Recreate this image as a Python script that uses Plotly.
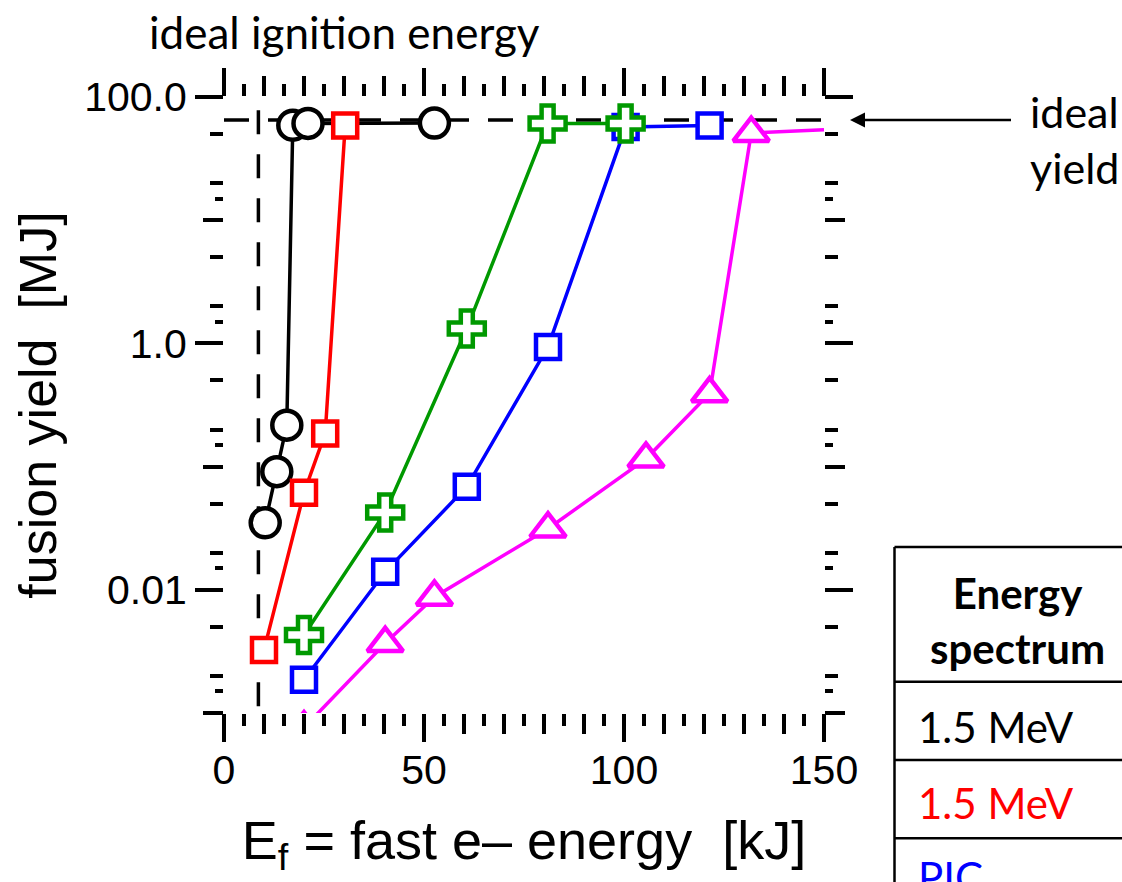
import plotly.graph_objects as go

# ---------------- data ----------------
black_x = [10.3, 13.2, 15.7, 17.2, 21.0, 52.6]
black_y = [0.035, 0.091, 0.217, 59.0, 61.0, 61.4]

red_x = [10.0, 20.0, 25.3, 30.3]
red_y = [0.00325, 0.0614, 0.186, 58.8]

blue_x = [20.0, 40.3, 60.7, 81.0, 100.4, 121.4]
blue_y = [0.00186, 0.0140, 0.0686, 0.937, 57.0, 58.8]

green_x = [20.0, 40.3, 60.7, 80.9, 100.4]
green_y = [0.0043, 0.0425, 1.32, 60.8, 60.8]

magenta_x = [20.0, 40.3, 52.6, 81.0, 105.5, 121.4, 131.8, 150.0]
magenta_y = [0.00076, 0.00368, 0.00875, 0.0313, 0.1156, 0.392, 50.9, 54.3]
magenta_marker_shown = [1, 1, 1, 1, 1, 1, 1, 0]

ideal_yield = 65.0           # MJ
ignition_energy = 8.6        # kJ
ignition_line_y = [78.0, 0.001]
ideal_line_x = [0.0, 150.0]

# ticks
x_major_vals = [0, 50, 100, 150]
x_major_text = ["0", "50", "100", "150"]
x_mid_vals = [10, 20, 30, 40, 60, 70, 80, 90, 110, 120, 130, 140]
x_minor_vals = [5, 15, 25, 35, 45, 55, 65, 75, 85, 95, 105, 115, 125, 135, 145]

y_major_vals = [0.01, 1, 100]
y_major_text = ["0.01", "1.0", "100.0"]
y_mid_vals = [0.001, 0.1, 10]
y_minor_vals = [0.002, 0.005, 0.02, 0.05, 0.2, 0.5, 2, 5, 20, 50]
y_small_vals = [0.0015, 0.015, 0.15, 1.5, 15]

table_header = "<b>Energy</b><br><b>spectrum</b>"
table_rows = ["1.5 MeV", "1.5 MeV", "PIC"]
table_colors = ["black", "#ff0000", "#0000ff"]

# ---------------- layout constants ----------------
W, H = 1122, 882
L, R, T, B = 224, 298, 97, 169
PW, PH = W - L - R, H - T - B


def px2x(px):
    return (px - L) / PW


def py2y(py):
    return 1 - (py - T) / PH


AX_FONT = "Liberation Sans, Arial, sans-serif"
TXT_FONT = "Lato, Carlito, Calibri, sans-serif"

fig = go.Figure()

# dashed reference lines
fig.add_trace(go.Scatter(x=[ignition_energy, ignition_energy], y=ignition_line_y, mode="lines",
                         line=dict(color="black", width=3.5, dash="24px,20px"), hoverinfo="skip"))
fig.add_trace(go.Scatter(x=ideal_line_x, y=[ideal_yield, ideal_yield], mode="lines",
                         line=dict(color="black", width=3.5, dash="25px,19px"), hoverinfo="skip"))

MLW = 4.5
LW = 3.5
fig.add_trace(go.Scatter(x=black_x, y=black_y, mode="lines+markers",
                         line=dict(color="black", width=LW),
                         marker=dict(symbol="circle", size=29, color="white",
                                     line=dict(color="black", width=MLW))))
fig.add_trace(go.Scatter(x=red_x, y=red_y, mode="lines+markers",
                         line=dict(color="#ff0000", width=LW),
                         marker=dict(symbol="square", size=24, color="white",
                                     line=dict(color="#ff0000", width=MLW))))
fig.add_trace(go.Scatter(x=magenta_x, y=magenta_y, mode="lines+markers",
                         line=dict(color="#ff00ff", width=LW),
                         marker=dict(symbol="triangle-up", size=31, color="white",
                                     opacity=magenta_marker_shown,
                                     line=dict(color="#ff00ff", width=MLW))))
fig.add_trace(go.Scatter(x=blue_x, y=blue_y, mode="lines+markers",
                         line=dict(color="#0000ff", width=LW),
                         marker=dict(symbol="square", size=24, color="white",
                                     line=dict(color="#0000ff", width=MLW))))
fig.add_trace(go.Scatter(x=green_x, y=green_y, mode="lines+markers",
                         line=dict(color="#009900", width=LW),
                         marker=dict(symbol="cross", size=30, color="white",
                                     line=dict(color="#009900", width=MLW))))

# dummy traces so the overlay tick axes are drawn
fig.add_trace(go.Scatter(x=[None], y=[None], xaxis="x2", yaxis="y", hoverinfo="skip"))
fig.add_trace(go.Scatter(x=[None], y=[None], xaxis="x", yaxis="y2", hoverinfo="skip"))

TW = 3.5
common = dict(showline=False, showgrid=False, zeroline=False, ticks="outside",
              mirror="ticks", tickcolor="black", tickwidth=TW)

fig.update_layout(
    width=W, height=H, margin=dict(l=L, r=R, t=T, b=B),
    paper_bgcolor="white", plot_bgcolor="white", showlegend=False,
    xaxis=dict(range=[0, 150], tickmode="array", tickvals=x_major_vals, ticktext=x_major_text,
               ticklen=28, ticklabelstandoff=-7,
               tickfont=dict(family=AX_FONT, size=41, color="black"),
               minor=dict(tickmode="array", tickvals=x_minor_vals, ticks="outside", ticklen=12,
                          tickwidth=TW, tickcolor="black", showgrid=False),
               title=dict(text="E<sub>f</sub> = fast e\u2013 energy\u00a0\u00a0[kJ]",
                          font=dict(family=AX_FONT, size=54, color="black"), standoff=28),
               **common),
    xaxis2=dict(range=[0, 150], overlaying="x", anchor="y", side="bottom", tickmode="array",
                tickvals=x_mid_vals, ticklen=20, showticklabels=False, **common),
    yaxis=dict(type="log", range=[-3, 2], tickmode="array", tickvals=y_major_vals,
               ticktext=y_major_text, ticklen=28,
               tickfont=dict(family=AX_FONT, size=41, color="black"),
               minor=dict(tickmode="array", tickvals=y_minor_vals, ticks="outside", ticklen=13,
                          tickwidth=TW, tickcolor="black", showgrid=False),
               title=dict(text="fusion yield\u00a0\u00a0[MJ]",
                          font=dict(family=AX_FONT, size=52, color="black"), standoff=10),
               **common),
    yaxis2=dict(type="log", range=[-3, 2], overlaying="y", anchor="x", side="left",
                tickmode="array", tickvals=y_mid_vals, ticklen=20, showticklabels=False,
                minor=dict(tickmode="array", tickvals=y_small_vals, ticks="outside", ticklen=8,
                           tickwidth=TW, tickcolor="black", showgrid=False),
                **common),
)

# text annotations
fig.add_annotation(x=px2x(344), y=py2y(32), xref="paper", yref="paper", showarrow=False,
                   text="ideal ignition energy", font=dict(family=TXT_FONT, size=44, color="black"),
                   xanchor="center", yanchor="middle")
fig.add_annotation(x=px2x(1028), y=py2y(140), xref="paper", yref="paper", showarrow=False,
                   text="ideal<br>yield", align="left",
                   font=dict(family=TXT_FONT, size=43, color="black"),
                   xanchor="left", yanchor="middle")
fig.add_annotation(x=px2x(850), y=py2y(120), xref="paper", yref="paper", showarrow=True,
                   text=" ", ax=163, ay=0, arrowhead=2, arrowsize=1.2, arrowwidth=2.5,
                   arrowcolor="black", font=dict(size=4))

# legend table
TL = 894.5
row_lines = [547, 681.7, 760, 838.3]
for yl in row_lines:
    fig.add_shape(type="line", xref="paper", yref="paper", x0=px2x(TL), x1=px2x(1140),
                  y0=py2y(yl), y1=py2y(yl), line=dict(color="black", width=2.5))
fig.add_shape(type="line", xref="paper", yref="paper", x0=px2x(TL), x1=px2x(TL),
              y0=py2y(547), y1=py2y(900), line=dict(color="black", width=2.5))
fig.add_annotation(x=px2x(1017), y=py2y(620), xref="paper", yref="paper", showarrow=False,
                   text=table_header, align="center",
                   font=dict(family=TXT_FONT, size=42, color="black"),
                   xanchor="center", yanchor="middle")
row_centers = [726.7, 803, 877]
for txt, col, yc in zip(table_rows, table_colors, row_centers):
    fig.add_annotation(x=px2x(916), y=py2y(yc), xref="paper", yref="paper", showarrow=False,
                       text=txt, font=dict(family=TXT_FONT, size=42, color=col),
                       xanchor="left", yanchor="middle")

fig.write_html("out.html")
